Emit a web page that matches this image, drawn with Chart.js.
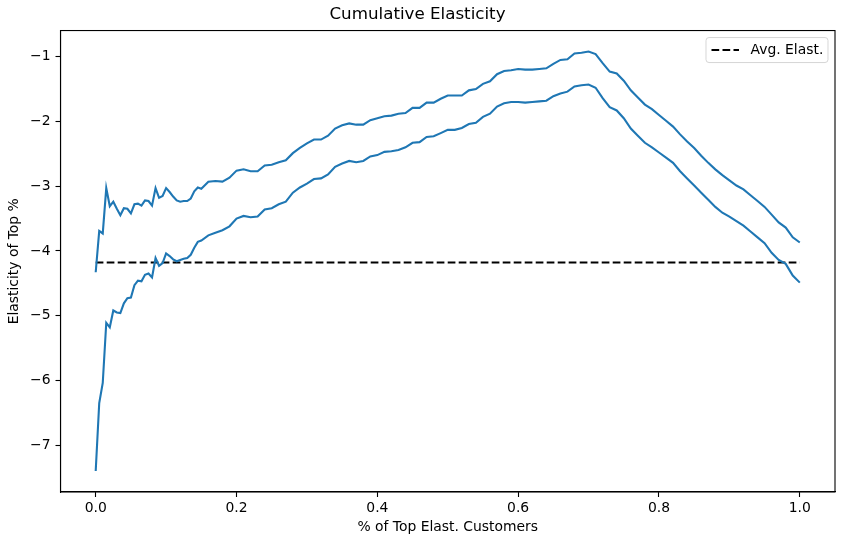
<!DOCTYPE html>
<html>
<head>
<meta charset="utf-8">
<script src="https://cdn.jsdelivr.net/npm/chart.js"></script>
<style>
  html, body { margin: 0; padding: 0; background: #fff; }
  #wrap { width: 844px; height: 545px; position: relative; }
</style>
</head>
<body>
<div id="wrap"><canvas id="elastChart"></canvas></div>
<script>
// share of top customers (x)
const shares = [
    0, 0.005, 0.01, 0.015, 0.02, 0.025, 0.03, 0.035, 0.04, 0.045,
    0.05, 0.055, 0.06, 0.065, 0.07, 0.075, 0.08, 0.085, 0.09, 0.095,
    0.10, 0.105, 0.11, 0.115, 0.12, 0.125, 0.13, 0.135, 0.14, 0.145,
    0.15, 0.16, 0.17, 0.18, 0.19, 0.20, 0.21, 0.22, 0.23, 0.24,
    0.25, 0.26, 0.27, 0.28, 0.29, 0.30, 0.31, 0.32, 0.33, 0.34,
    0.35, 0.36, 0.37, 0.38, 0.39, 0.40, 0.41, 0.42, 0.43, 0.44,
    0.45, 0.46, 0.47, 0.48, 0.49, 0.50, 0.51, 0.52, 0.53, 0.54,
    0.55, 0.56, 0.57, 0.58, 0.59, 0.60, 0.61, 0.62, 0.63, 0.64,
    0.65, 0.66, 0.67, 0.68, 0.69, 0.70, 0.71, 0.72, 0.73, 0.74,
    0.75, 0.76, 0.77, 0.78, 0.79, 0.80, 0.81, 0.82, 0.83, 0.84,
    0.85, 0.86, 0.87, 0.88, 0.89, 0.90, 0.91, 0.92, 0.93, 0.94,
    0.95, 0.96, 0.97, 0.98, 0.99, 1.00
];

const upperElast = [
    -4.33, -3.69, -3.73, -3.03, -3.31, -3.24, -3.35, -3.45, -3.34, -3.35,
    -3.42, -3.28, -3.27, -3.30, -3.22, -3.23, -3.30, -3.03, -3.18, -3.15,
    -3.03, -3.09, -3.16, -3.22, -3.24, -3.23, -3.23, -3.19, -3.08, -3.02,
    -3.04, -2.93, -2.92, -2.93, -2.87, -2.76, -2.74, -2.77, -2.77, -2.68,
    -2.67, -2.63, -2.60, -2.49, -2.41, -2.34, -2.28, -2.28, -2.22, -2.11,
    -2.06, -2.03, -2.05, -2.05, -1.98, -1.95, -1.92, -1.91, -1.88, -1.87,
    -1.79, -1.79, -1.71, -1.71, -1.65, -1.60, -1.60, -1.60, -1.52, -1.50,
    -1.42, -1.38, -1.27, -1.22, -1.21, -1.19, -1.20, -1.20, -1.19, -1.18,
    -1.11, -1.05, -1.04, -0.95, -0.94, -0.92, -0.96, -1.10, -1.23, -1.26,
    -1.37, -1.52, -1.63, -1.74, -1.81, -1.90, -1.99, -2.08, -2.20, -2.31,
    -2.41, -2.53, -2.64, -2.74, -2.83, -2.91, -2.99, -3.05, -3.14, -3.23,
    -3.32, -3.44, -3.56, -3.64, -3.79, -3.87
];

const lowerElast = [
    -7.40, -6.35, -6.04, -5.11, -5.18, -4.92, -4.95, -4.96, -4.81, -4.73,
    -4.72, -4.53, -4.46, -4.47, -4.37, -4.35, -4.41, -4.11, -4.23, -4.19,
    -4.04, -4.08, -4.13, -4.16, -4.14, -4.12, -4.11, -4.06, -3.95, -3.86,
    -3.84, -3.76, -3.72, -3.68, -3.62, -3.50, -3.46, -3.48, -3.47, -3.36,
    -3.34, -3.28, -3.24, -3.10, -3.02, -2.96, -2.89, -2.88, -2.82, -2.70,
    -2.65, -2.61, -2.63, -2.61, -2.54, -2.52, -2.47, -2.46, -2.44, -2.40,
    -2.33, -2.32, -2.24, -2.23, -2.18, -2.13, -2.13, -2.10, -2.04, -2.02,
    -1.93, -1.88, -1.77, -1.72, -1.70, -1.70, -1.71, -1.70, -1.69, -1.68,
    -1.61, -1.57, -1.54, -1.46, -1.44, -1.43, -1.48, -1.64, -1.78, -1.83,
    -1.95, -2.11, -2.22, -2.33, -2.40, -2.48, -2.56, -2.64, -2.77, -2.88,
    -2.99, -3.10, -3.21, -3.32, -3.41, -3.47, -3.54, -3.61, -3.70, -3.79,
    -3.88, -4.03, -4.14, -4.20, -4.38, -4.49
];

const avgShares = [0, 1];
const avgElast = [-4.18, -4.18];

const xTicks = [0, 0.2, 0.4, 0.6, 0.8, 1.0];
const yTicks = [-7, -6, -5, -4, -3, -2, -1];

const FONT = "'DejaVu Sans', sans-serif";
const BLUE = '#1f77b4';

function toPoints(xs, ys) {
    return xs.map((x, i) => ({x: x, y: ys[i]}));
}

// frame around the plot area + matplotlib-like legend box
const frameAndLegend = {
    id: 'frameAndLegend',
    afterDraw(chart) {
        const c = chart.ctx;
        const a = chart.chartArea;
        c.save();
        c.strokeStyle = '#000';
        c.lineWidth = 1.1;
        c.strokeRect(a.left, a.top, a.right - a.left, a.bottom - a.top);

        const ds = chart.data.datasets[2];
        const w = 122, h = 25;
        const bx = a.right - 7 - w, by = a.top + 7;
        c.beginPath();
        c.roundRect(bx, by, w, h, 3);
        c.fillStyle = 'rgba(255,255,255,0.8)';
        c.fill();
        c.strokeStyle = 'rgba(204,204,204,0.8)';
        c.lineWidth = 1;
        c.stroke();

        c.beginPath();
        c.setLineDash(ds.borderDash);
        c.strokeStyle = ds.borderColor;
        c.lineWidth = ds.borderWidth;
        c.moveTo(bx + 5.5, by + h / 2);
        c.lineTo(bx + 33, by + h / 2);
        c.stroke();
        c.setLineDash([]);

        c.fillStyle = '#000';
        c.font = '13.9px ' + FONT;
        c.textBaseline = 'middle';
        c.textAlign = 'left';
        c.fillText(ds.label, bx + 44.5, by + h / 2 + 0.5);
        c.restore();
    }
};

const ctx = document.getElementById('elastChart');

new Chart(ctx, {
    type: 'line',
    data: {
        datasets: [{
            label: 'upper',
            data: toPoints(shares, upperElast),
            borderColor: BLUE,
            borderWidth: 2.1,
            pointRadius: 0,
            fill: false
        }, {
            label: 'lower',
            data: toPoints(shares, lowerElast),
            borderColor: BLUE,
            borderWidth: 2.1,
            pointRadius: 0,
            fill: false
        }, {
            label: 'Avg. Elast.',
            data: toPoints(avgShares, avgElast),
            borderColor: '#000',
            borderWidth: 2.1,
            borderDash: [7.7, 3.3],
            pointRadius: 0,
            fill: false
        }]
    },
    options: {
        responsive: true,
        maintainAspectRatio: false,
        animation: false,
        layout: {
            padding: {left: 0, right: 9, top: 0, bottom: 0}
        },
        plugins: {
            legend: {display: false},
            tooltip: {enabled: false},
            title: {
                display: true,
                text: 'Cumulative Elasticity',
                color: '#000',
                font: {family: FONT, size: 16.7, weight: 'normal'},
                padding: {top: 5, bottom: 5.5}
            }
        },
        scales: {
            x: {
                type: 'linear',
                min: -0.05,
                max: 1.05,
                afterBuildTicks: function (scale) {
                    scale.ticks = xTicks.map(v => ({value: v}));
                },
                afterFit: function (scale) {
                    scale.height = 53;
                },
                ticks: {
                    color: '#000',
                    font: {family: FONT, size: 13.9},
                    padding: 3,
                    maxRotation: 0,
                    callback: v => v.toFixed(1)
                },
                grid: {
                    drawOnChartArea: false,
                    tickLength: 5,
                    tickWidth: 1.1,
                    tickColor: '#000'
                },
                border: {display: true, color: '#000', width: 1.1},
                title: {
                    display: true,
                    text: '% of Top Elast. Customers',
                    color: '#000',
                    font: {family: FONT, size: 13.9},
                    padding: {top: 0, bottom: 9.5}
                }
            },
            y: {
                type: 'linear',
                min: -7.724,
                max: -0.596,
                afterBuildTicks: function (scale) {
                    scale.ticks = yTicks.map(v => ({value: v}));
                },
                afterFit: function (scale) {
                    scale.width = 60.5;
                },
                ticks: {
                    color: '#000',
                    font: {family: FONT, size: 13.9},
                    padding: 5,
                    callback: v => String(v).replace('-', '\u2212')
                },
                grid: {
                    drawOnChartArea: false,
                    tickLength: 5,
                    tickWidth: 1.1,
                    tickColor: '#000'
                },
                border: {display: true, color: '#000', width: 1.1},
                title: {
                    display: true,
                    text: 'Elasticity of Top %',
                    color: '#000',
                    font: {family: FONT, size: 13.9},
                    padding: {top: 6.5, bottom: 0}
                }
            }
        }
    },
    plugins: [frameAndLegend]
});
</script>
</body>
</html>
